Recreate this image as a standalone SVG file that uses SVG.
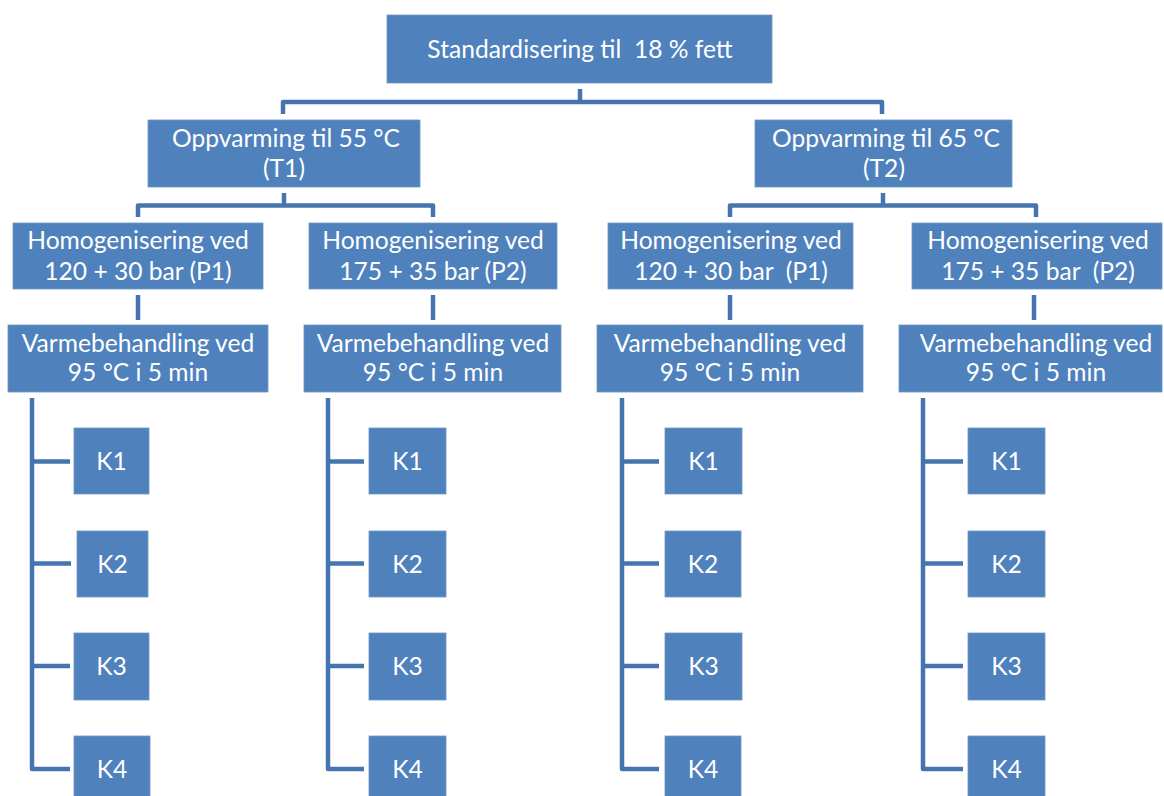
<svg xmlns="http://www.w3.org/2000/svg" width="1164" height="796" viewBox="0 0 1164 796">
<style>
.box{fill:#4F81BD;stroke:#6f97c9;stroke-width:0.8}
.t{font-family:Lato,"Liberation Sans",sans-serif;font-size:24.6px;fill:#ffffff;text-anchor:middle;white-space:pre}
.c{fill:none;stroke:#4674AE;stroke-width:4.5;stroke-linejoin:round;stroke-linecap:butt}
</style>
<rect width="1164" height="796" fill="#ffffff"/>
<g id="connectors">
<path class="c" d="M580,89 V102"/>
<path class="c" d="M283,114 V102 H882 V114"/>
<path class="c" d="M284,193 V205.5"/>
<path class="c" d="M138,217 V205.5 H433 V217"/>
<path class="c" d="M883,193 V205.5"/>
<path class="c" d="M730,217 V205.5 H1036 V217"/>
<path class="c" d="M138,295 V320"/>
<path class="c" d="M433,295 V320"/>
<path class="c" d="M730,295 V320"/>
<path class="c" d="M1034,295 V320"/>
<path class="c" d="M32,398 V769 H70 M32,461.5 H70 M32,563.5 H71 M32,666 H70"/>
<path class="c" d="M328,398 V769 H364 M328,461.5 H364 M328,563.5 H364 M328,666 H364"/>
<path class="c" d="M622,398 V769 H659 M622,461.5 H659 M622,563.5 H659 M622,666 H659"/>
<path class="c" d="M923,398 V769 H963 M923,461.5 H963 M923,563.5 H963 M923,666 H963"/>
</g>
<g id="n-top"><rect class="box" x="387" y="15" width="385" height="68"/><text class="t" x="580" y="57.5">Standardisering til  18 % fett</text></g>
<g id="n-t1"><rect class="box" x="148" y="120" width="272" height="67"/><text class="t" x="286" y="146.5">Oppvarming til 55 °C</text><text class="t" x="284" y="176.5">(T1)</text></g>
<g id="n-t2"><rect class="box" x="755" y="120" width="257" height="67"/><text class="t" x="886" y="146.5">Oppvarming til 65 °C</text><text class="t" x="884" y="176.5">(T2)</text></g>
<g id="n-h1"><rect class="box" x="13" y="223" width="250" height="66"/><text class="t" x="138" y="248.5">Homogenisering ved</text><text class="t" x="138" y="279.5">120 + 30 bar (P1)</text></g>
<g id="n-h2"><rect class="box" x="309" y="223" width="248" height="66"/><text class="t" x="433" y="248.5">Homogenisering ved</text><text class="t" x="433" y="279.5">175 + 35 bar (P2)</text></g>
<g id="n-h3"><rect class="box" x="608" y="223" width="245" height="66"/><text class="t" x="731" y="248.5">Homogenisering ved</text><text class="t" x="731" y="279.5">120 + 30 bar  (P1)</text></g>
<g id="n-h4"><rect class="box" x="912" y="223" width="250" height="66"/><text class="t" x="1038" y="248.5">Homogenisering ved</text><text class="t" x="1038" y="279.5">175 + 35 bar  (P2)</text></g>
<g id="n-v1"><rect class="box" x="8" y="325" width="260" height="67"/><text class="t" x="138" y="352">Varmebehandling ved</text><text class="t" x="138" y="381">95 °C i 5 min</text></g>
<g id="n-v2"><rect class="box" x="304" y="325" width="257" height="67"/><text class="t" x="433" y="352">Varmebehandling ved</text><text class="t" x="433" y="381">95 °C i 5 min</text></g>
<g id="n-v3"><rect class="box" x="597" y="325" width="266" height="67"/><text class="t" x="730" y="352">Varmebehandling ved</text><text class="t" x="730" y="381">95 °C i 5 min</text></g>
<g id="n-v4"><rect class="box" x="899" y="325" width="263" height="67"/><text class="t" x="1036" y="352">Varmebehandling ved</text><text class="t" x="1036" y="381">95 °C i 5 min</text></g>
<g id="n-k11"><rect class="box" x="74" y="428" width="75" height="66"/><text class="t" x="111.5" y="469.5">K1</text></g>
<g id="n-k12"><rect class="box" x="77" y="531" width="71" height="66"/><text class="t" x="112.5" y="572.5">K2</text></g>
<g id="n-k13"><rect class="box" x="74" y="633" width="75" height="67"/><text class="t" x="111.5" y="675">K3</text></g>
<g id="n-k14"><rect class="box" x="74" y="736" width="76" height="67"/><text class="t" x="112" y="777.5">K4</text></g>
<g id="n-k21"><rect class="box" x="369" y="428" width="77" height="66"/><text class="t" x="407.5" y="469.5">K1</text></g>
<g id="n-k22"><rect class="box" x="369" y="531" width="77" height="66"/><text class="t" x="407.5" y="572.5">K2</text></g>
<g id="n-k23"><rect class="box" x="369" y="633" width="77" height="67"/><text class="t" x="407.5" y="675">K3</text></g>
<g id="n-k24"><rect class="box" x="369" y="736" width="77" height="67"/><text class="t" x="407.5" y="777.5">K4</text></g>
<g id="n-k31"><rect class="box" x="665" y="428" width="77" height="66"/><text class="t" x="703.5" y="469.5">K1</text></g>
<g id="n-k32"><rect class="box" x="665" y="531" width="76" height="66"/><text class="t" x="703" y="572.5">K2</text></g>
<g id="n-k33"><rect class="box" x="665" y="633" width="77" height="67"/><text class="t" x="703.5" y="675">K3</text></g>
<g id="n-k34"><rect class="box" x="665" y="736" width="76" height="67"/><text class="t" x="703" y="777.5">K4</text></g>
<g id="n-k41"><rect class="box" x="968" y="428" width="77" height="66"/><text class="t" x="1006.5" y="469.5">K1</text></g>
<g id="n-k42"><rect class="box" x="968" y="531" width="77" height="66"/><text class="t" x="1006.5" y="572.5">K2</text></g>
<g id="n-k43"><rect class="box" x="968" y="633" width="77" height="67"/><text class="t" x="1006.5" y="675">K3</text></g>
<g id="n-k44"><rect class="box" x="968" y="736" width="77" height="67"/><text class="t" x="1006.5" y="777.5">K4</text></g>
</svg>
